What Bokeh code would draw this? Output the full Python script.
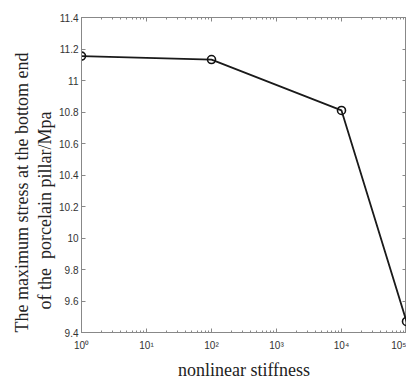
from bokeh.plotting import figure
from bokeh.models import (LogAxis, LinearAxis, FixedTicker, PrintfTickFormatter,
                          Title, Range1d, ColumnDataSource)
from bokeh.embed import file_html
from bokeh.resources import INLINE

stiffness = [1, 100, 10000, 100000]
stress = [11.155, 11.133, 10.81, 9.47]
x_tick_labels = {1: "10⁰", 10: "10¹", 100: "10²", 1000: "10³", 10000: "10⁴", 100000: "10⁵"}
y_ticks = [9.4, 9.6, 9.8, 10.0, 10.2, 10.4, 10.6, 10.8, 11.0, 11.2, 11.4]

x_major = list(x_tick_labels.keys())
x_minor = [m * d for d in x_major[:-1] for m in range(2, 10)]

p = figure(width=406, height=383, output_backend="svg", toolbar_location=None,
           x_axis_type="log", x_range=Range1d(1, 100000), y_range=Range1d(9.4, 11.4),
           min_border_left=81, min_border_right=0, min_border_top=17, min_border_bottom=50)
p.grid.visible = False
p.outline_line_color = "#888888"
p.background_fill_color = "white"
p.border_fill_color = "white"

src = ColumnDataSource(dict(x=stiffness, y=stress))
p.line("x", "y", source=src, line_color="#1a1a1a", line_width=1.8)
p.scatter("x", "y", source=src, marker="circle", size=8, fill_color=None,
          line_color="#111111", line_width=1.6)

axis_color = "#888888"
label_font = "Liberation Sans"

def style(ax, labels=True):
    ax.axis_line_color = axis_color
    ax.major_tick_line_color = axis_color
    ax.minor_tick_line_color = axis_color
    ax.major_tick_in = 4
    ax.major_tick_out = 0
    ax.minor_tick_in = 2
    ax.minor_tick_out = 0
    ax.major_label_text_font = label_font
    ax.major_label_text_font_size = "10px"
    ax.major_label_text_color = "#333333"
    if not labels:
        ax.major_label_text_color = None
        ax.major_label_standoff = 0

xa = p.xaxis[0]
xa.ticker = FixedTicker(ticks=x_major, minor_ticks=x_minor)
xa.major_label_overrides = x_tick_labels
xa.major_label_standoff = 7
style(xa)

ya = p.yaxis[0]
ya.ticker = FixedTicker(ticks=y_ticks)
ya.formatter = PrintfTickFormatter(format="%g")
ya.major_label_standoff = 3
style(ya)
ya.minor_tick_line_color = None

top = LogAxis(ticker=FixedTicker(ticks=x_major, minor_ticks=x_minor))
style(top, labels=False)
p.add_layout(top, "above")

right = LinearAxis(ticker=FixedTicker(ticks=y_ticks))
style(right, labels=False)
right.minor_tick_line_color = None
p.add_layout(right, "right")

serif = "Liberation Serif"
xt_title = Title(text="nonlinear stiffness", align="center", text_font=serif,
                 text_font_size="18px", text_font_style="normal", text_color="#222222",
                 standoff=8, offset=8)
p.add_layout(xt_title, "below")

y2 = Title(text="of the\u00a0 porcelain pillar/Mpa", align="left", text_font=serif,
           text_font_size="18px", text_font_style="normal", text_color="#222222",
           standoff=3, offset=23)
y1 = Title(text="The maximum stress at the bottom end", align="left", text_font=serif,
           text_font_size="18px", text_font_style="normal", text_color="#222222",
           standoff=0, offset=0)
p.add_layout(y2, "left")
p.add_layout(y1, "left")

open("out.html", "w").write(file_html(p, INLINE))
